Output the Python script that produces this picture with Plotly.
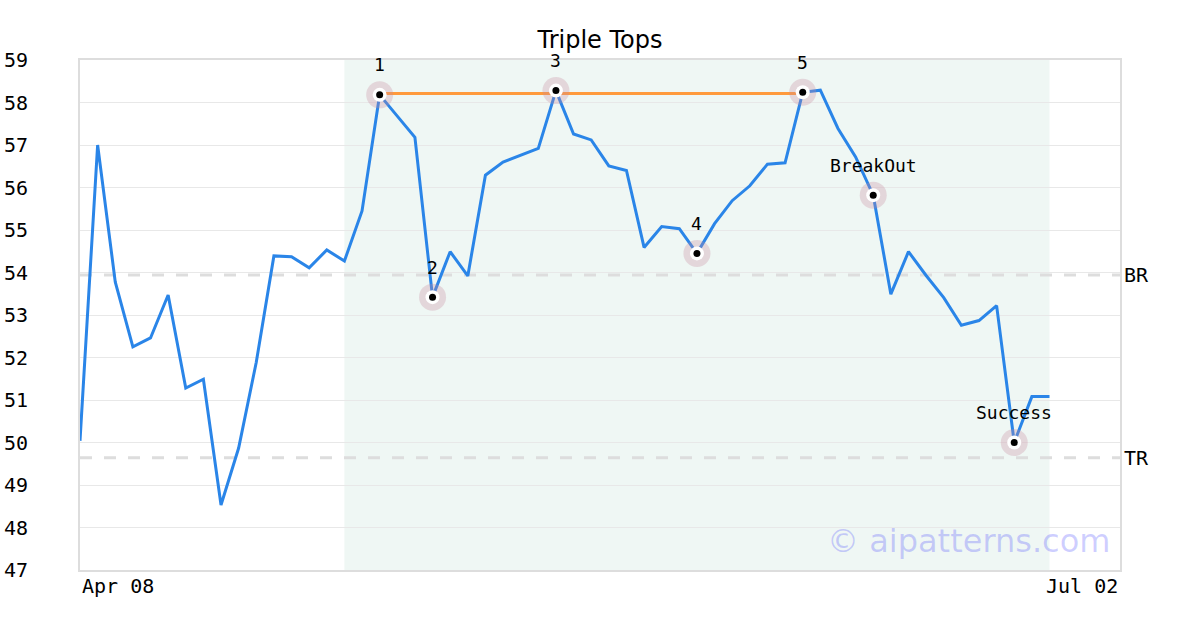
import plotly.graph_objects as go

# ---- data ----
prices = [50.04, 57.0, 53.78, 52.25, 52.46, 53.47, 51.28, 51.49, 48.53, 49.87,
          51.89, 54.39, 54.37, 54.11, 54.53, 54.27, 55.45, 58.18, 57.68, 57.18,
          53.42, 54.49, 53.92, 56.29, 56.6, 56.76, 56.92, 58.28, 57.26, 57.12,
          56.51, 56.4, 54.59, 55.08, 55.03, 54.45, 55.15, 55.69, 56.04, 56.55,
          56.58, 58.24, 58.29, 57.39, 56.72, 55.82, 53.49, 54.49, 53.93, 53.41,
          52.76, 52.87, 53.22, 50.0, 51.08, 51.08]
x_index = list(range(len(prices)))

pivot_idx = [17, 20, 27, 35, 41, 45, 53]
pivot_labels = ["1", "2", "3", "4", "5", "BreakOut", "Success"]

resistance_idx = [17, 41]          # orange top line between points 1 and 5
resistance_level = 58.21
pattern_span = [15, 55]            # shaded pattern region (index)
level_names = ["BR", "TR"]
level_values = [53.94, 49.64]

x_tick_labels = ["Apr 08", "Jul 02"]
y_ticks = list(range(47, 60))
x_range = [0, 59]

MONO = "DejaVu Sans Mono"

fig = go.Figure()

# price line
fig.add_trace(go.Scatter(x=x_index, y=prices, mode="lines",
                         line=dict(color="#2a85e8", width=3),
                         hoverinfo="skip", showlegend=False))

# resistance line
fig.add_trace(go.Scatter(x=[x_index[i] for i in resistance_idx],
                         y=[resistance_level, resistance_level], mode="lines",
                         line=dict(color="#ff9a3c", width=3),
                         hoverinfo="skip", showlegend=False))

px = [x_index[i] for i in pivot_idx]
py = [prices[i] for i in pivot_idx]
# halo, white ring, black dot
fig.add_trace(go.Scatter(x=px, y=py, mode="markers",
                         marker=dict(size=27, color="rgba(200,140,160,0.3)", line=dict(width=0)),
                         hoverinfo="skip", showlegend=False))
fig.add_trace(go.Scatter(x=px, y=py, mode="markers",
                         marker=dict(size=14, color="white", line=dict(width=0)),
                         hoverinfo="skip", showlegend=False))
fig.add_trace(go.Scatter(x=px, y=py, mode="markers",
                         marker=dict(size=7, color="black", line=dict(width=0)),
                         hoverinfo="skip", showlegend=False))

shapes = [
    dict(type="rect", xref="x", yref="paper", x0=pattern_span[0], x1=pattern_span[1],
         y0=0, y1=1, fillcolor="#eff7f4", line=dict(width=0), layer="below"),
]
for v in level_values:
    shapes.append(dict(type="line", xref="paper", yref="y", x0=0, x1=1, y0=v, y1=v,
                       line=dict(color="#dddddd", width=3, dash="12px,12px"), layer="between"))

annotations = []
for xi, yi, lab in zip(px, py, pivot_labels):
    annotations.append(dict(x=xi, y=yi, text=lab, showarrow=False, yshift=30,
                            yanchor="middle", xanchor="center",
                            font=dict(family=MONO, size=18, color="black")))
for name, v in zip(level_names, level_values):
    annotations.append(dict(x=1, xref="paper", y=v, yref="y", text=name, showarrow=False,
                            xanchor="left", xshift=2, yanchor="middle",
                            font=dict(family=MONO, size=20, color="black")))
# x tick labels
annotations.append(dict(x=0, xref="paper", y=0, yref="paper", text=x_tick_labels[0],
                        showarrow=False, xanchor="left", yanchor="top", yshift=-2, xshift=0,
                        font=dict(family=MONO, size=20, color="black")))
annotations.append(dict(x=1, xref="paper", y=0, yref="paper", text=x_tick_labels[1],
                        showarrow=False, xanchor="right", yanchor="top", yshift=-2, xshift=0,
                        font=dict(family=MONO, size=20, color="black")))
# watermark
annotations.append(dict(x=1, xref="paper", y=0, yref="paper", text="© aipatterns.com",
                        showarrow=False, xanchor="right", yanchor="bottom", xshift=-8, yshift=8,
                        font=dict(family="DejaVu Sans", size=32, color="rgba(60,60,255,0.25)")))

fig.update_layout(
    width=1200, height=630,
    margin=dict(l=80, r=80, t=60, b=60, autoexpand=False),
    paper_bgcolor="white", plot_bgcolor="white",
    title=dict(text="Triple Tops", x=0.5, xanchor="center", y=0.937, yanchor="middle",
               font=dict(family="DejaVu Sans", size=24, color="black")),
    shapes=shapes, annotations=annotations,
    xaxis=dict(range=x_range, showgrid=False, zeroline=False, showticklabels=False,
               showline=True, mirror=True, linecolor="#dddddd", linewidth=2, ticks="",
               automargin=False),
    yaxis=dict(range=[47, 59], tickvals=y_ticks, showgrid=True, gridcolor="#e8e8e8",
               gridwidth=1, zeroline=False, showline=True, mirror=True,
               linecolor="#dddddd", linewidth=2, ticks="", ticklabelstandoff=46,
               automargin=False,
               tickfont=dict(family=MONO, size=20, color="black")),
    showlegend=False,
)

fig.write_html("out.html", config={"displayModeBar": False},
               post_script="document.body.style.margin='0px';")
